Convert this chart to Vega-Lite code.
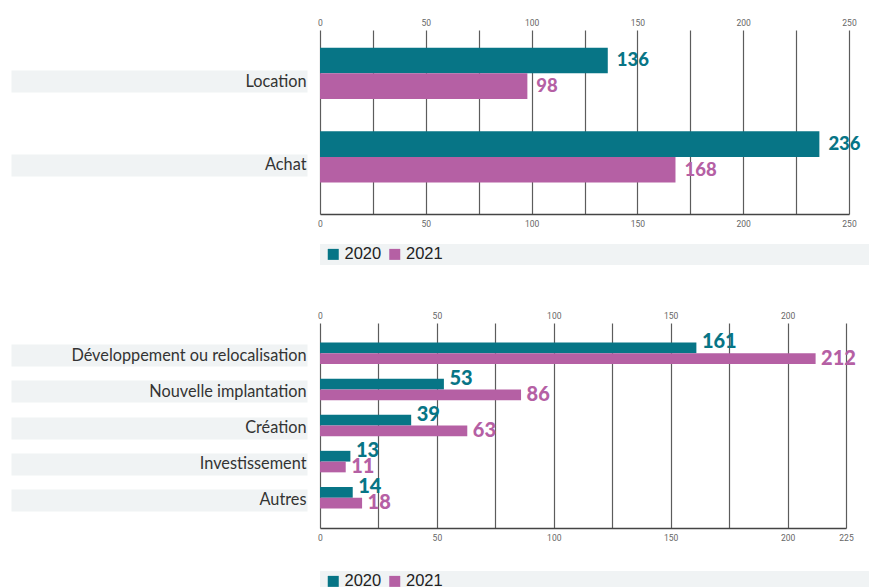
{
  "$schema": "https://vega.github.io/schema/vega-lite/v6.json",
  "background": "white",
  "padding": {"left": 0, "top": 18, "right": 0, "bottom": 0},
  "config": {"view": {"stroke": null}},
  "spacing": 46,
  "resolve": {"scale": {"color": "independent", "yOffset": "independent", "x": "independent", "y": "independent"}},
  "vconcat": [
    {
      "spacing": 16,
      "resolve": {"scale": {"color": "independent", "yOffset": "independent", "x": "independent", "y": "independent"}},
      "vconcat": [
        {
          "width": 529,
          "height": 184,
          "data": {"values": [
            {"type": "Location", "year": "2020", "value": 136},
            {"type": "Location", "year": "2021", "value": 98},
            {"type": "Achat", "year": "2020", "value": 236},
            {"type": "Achat", "year": "2021", "value": 168}
          ]},
          "encoding": {
            "y": {"field": "type", "type": "nominal", "sort": null,
              "scale": {"paddingInner": 0.387, "paddingOuter": 0.293, "align": 0.36},
              "axis": {"title": null, "domain": false, "grid": false, "ticks": true, "tickSize": 296, "tickWidth": 22, "tickColor": "#f0f3f4", "tickCap": "butt", "offset": 13, "tickOffset": 8, "labelPadding": -295, "labelFont": "Lato", "labelFontSize": 16.3, "labelColor": "#333333", "labelLimit": 0}},
            "yOffset": {"field": "year", "type": "nominal", "scale": {"domain": ["2020", "2021"], "paddingInner": 0, "paddingOuter": 0}},
            "color": {"field": "year", "type": "nominal", "scale": {"domain": ["2020", "2021"], "range": ["#077586", "#b560a4"]}, "legend": null}
          },
          "layer": [
            {
              "mark": {"type": "bar"},
              "encoding": {
                "x": {"field": "value", "type": "quantitative", "scale": {"domain": [0, 250], "nice": false},
                  "axis": {"orient": "bottom", "title": null, "values": [0, 25, 50, 75, 100, 125, 150, 175, 200, 225, 250], "labelExpr": "datum.value % 50 === 0 ? datum.label : ''", "grid": true, "gridColor": "#5c5c5c", "gridWidth": 1.2, "domain": true, "domainColor": "#444444", "domainWidth": 1.5, "ticks": false, "tickSize": 0, "labelPadding": 5, "labelFont": "Roboto", "labelFontSize": 8.5, "labelColor": "#666666", "labelFlush": false, "labelOverlap": false}}
              }
            },
            {
              "transform": [{"filter": "datum.year == '2020'"}],
              "mark": {"type": "text", "align": "left", "baseline": "middle", "dx": 9, "font": "Lato", "fontWeight": 900, "fontSize": 18.5},
              "encoding": {
                "x": {"field": "value", "type": "quantitative", "scale": {"domain": [0, 250], "nice": false},
                  "axis": {"orient": "top", "title": null, "values": [0, 50, 100, 150, 200, 250], "grid": false, "domain": false, "ticks": false, "tickSize": 0, "labelPadding": 3, "labelFont": "Roboto", "labelFontSize": 8.5, "labelColor": "#666666", "labelFlush": false, "labelOverlap": false}},
                "text": {"field": "value", "type": "quantitative"}
              }
            },
            {
              "transform": [{"filter": "datum.year == '2021'"}],
              "mark": {"type": "text", "align": "left", "baseline": "middle", "dx": 9, "font": "Lato", "fontWeight": 900, "fontSize": 18.5},
              "encoding": {
                "x": {"field": "value", "type": "quantitative", "scale": {"domain": [0, 250], "nice": false}, "axis": null},
                "text": {"field": "value", "type": "quantitative"}
              }
            }
          ]
        },
        {
          "width": 549,
          "height": 21,
          "view": {"fill": "#f0f3f4", "stroke": null},
          "data": {"values": [{"year": "2020"}, {"year": "2021"}]},
          "mark": {"type": "square", "opacity": 0},
          "encoding": {
            "color": {"field": "year", "type": "nominal", "scale": {"domain": ["2020", "2021"], "range": ["#077586", "#b560a4"]},
              "legend": {"title": null, "orient": "none", "legendX": 5, "legendY": 2, "direction": "horizontal", "symbolType": "square", "symbolSize": 121, "symbolStrokeWidth": 0, "symbolOpacity": 1, "labelFont": "Liberation Sans", "labelFontSize": 16.5, "labelColor": "#222222", "labelOffset": 3, "columnPadding": 4.5, "padding": 0}}
          }
        }
      ]
    },
    {
      "spacing": 29,
      "resolve": {"scale": {"color": "independent", "yOffset": "independent", "x": "independent", "y": "independent"}},
      "vconcat": [
        {
          "width": 526,
          "height": 205,
          "data": {"values": [
            {"type": "Développement ou relocalisation", "year": "2020", "value": 161},
            {"type": "Développement ou relocalisation", "year": "2021", "value": 212},
            {"type": "Nouvelle implantation", "year": "2020", "value": 53},
            {"type": "Nouvelle implantation", "year": "2021", "value": 86},
            {"type": "Création", "year": "2020", "value": 39},
            {"type": "Création", "year": "2021", "value": 63},
            {"type": "Investissement", "year": "2020", "value": 13},
            {"type": "Investissement", "year": "2021", "value": 11},
            {"type": "Autres", "year": "2020", "value": 14},
            {"type": "Autres", "year": "2021", "value": 18}
          ]},
          "encoding": {
            "y": {"field": "type", "type": "nominal", "sort": null,
              "scale": {"paddingInner": 0.404, "paddingOuter": 0.542, "align": 0.5},
              "axis": {"title": null, "domain": false, "grid": false, "ticks": true, "tickSize": 296, "tickWidth": 22, "tickColor": "#f0f3f4", "tickCap": "butt", "offset": 13, "tickOffset": 2, "labelPadding": -295, "labelFont": "Lato", "labelFontSize": 16.3, "labelColor": "#333333", "labelLimit": 0}},
            "yOffset": {"field": "year", "type": "nominal", "scale": {"domain": ["2020", "2021"], "paddingInner": 0, "paddingOuter": 0}},
            "color": {"field": "year", "type": "nominal", "scale": {"domain": ["2020", "2021"], "range": ["#077586", "#b560a4"]}, "legend": null}
          },
          "layer": [
            {
              "mark": {"type": "bar"},
              "encoding": {
                "x": {"field": "value", "type": "quantitative", "scale": {"domain": [0, 225], "nice": false},
                  "axis": {"orient": "bottom", "title": null, "values": [0, 25, 50, 75, 100, 125, 150, 175, 200, 225], "labelExpr": "datum.value % 50 === 0 || datum.value === 225 ? datum.label : ''", "grid": true, "gridColor": "#5c5c5c", "gridWidth": 1.2, "domain": true, "domainColor": "#444444", "domainWidth": 1.5, "ticks": false, "tickSize": 0, "labelPadding": 5, "labelFont": "Roboto", "labelFontSize": 8.5, "labelColor": "#666666", "labelFlush": false, "labelOverlap": false}}
              }
            },
            {
              "transform": [{"filter": "datum.year == '2020'"}],
              "mark": {"type": "text", "align": "left", "baseline": "middle", "dx": 5.5, "dy": -5.5, "font": "Lato", "fontWeight": 900, "fontSize": 20},
              "encoding": {
                "x": {"field": "value", "type": "quantitative", "scale": {"domain": [0, 225], "nice": false},
                  "axis": {"orient": "top", "title": null, "values": [0, 50, 100, 150, 200], "grid": false, "domain": false, "ticks": false, "tickSize": 0, "labelPadding": 3, "labelFont": "Roboto", "labelFontSize": 8.5, "labelColor": "#666666", "labelFlush": false, "labelOverlap": false}},
                "text": {"field": "value", "type": "quantitative"}
              }
            },
            {
              "transform": [{"filter": "datum.year == '2021'"}],
              "mark": {"type": "text", "align": "left", "baseline": "middle", "dx": 5.5, "dy": 0, "font": "Lato", "fontWeight": 900, "fontSize": 20},
              "encoding": {
                "x": {"field": "value", "type": "quantitative", "scale": {"domain": [0, 225], "nice": false}, "axis": null},
                "text": {"field": "value", "type": "quantitative"}
              }
            }
          ]
        },
        {
          "width": 549,
          "height": 21,
          "view": {"fill": "#f0f3f4", "stroke": null},
          "data": {"values": [{"year": "2020"}, {"year": "2021"}]},
          "mark": {"type": "square", "opacity": 0},
          "encoding": {
            "color": {"field": "year", "type": "nominal", "scale": {"domain": ["2020", "2021"], "range": ["#077586", "#b560a4"]},
              "legend": {"title": null, "orient": "none", "legendX": 5, "legendY": 2, "direction": "horizontal", "symbolType": "square", "symbolSize": 121, "symbolStrokeWidth": 0, "symbolOpacity": 1, "labelFont": "Liberation Sans", "labelFontSize": 16.5, "labelColor": "#222222", "labelOffset": 3, "columnPadding": 4.5, "padding": 0}}
          }
        }
      ]
    }
  ]
}
